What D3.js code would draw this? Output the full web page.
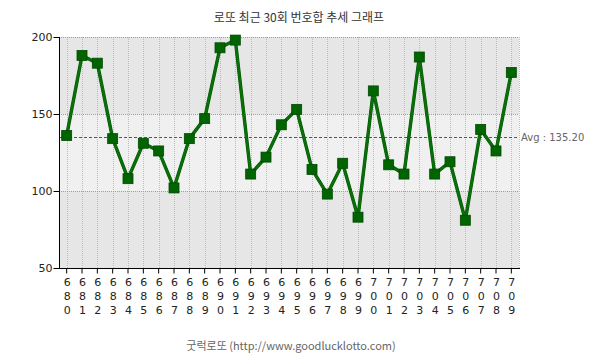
<!DOCTYPE html>
<html>
<head>
<meta charset="utf-8">
<script src="https://cdn.jsdelivr.net/npm/d3@7/dist/d3.min.js"></script>
<style>
  html, body { margin: 0; padding: 0; background: #fff; }
  svg { display: block; }
</style>
</head>
<body>
<svg id="chart" width="605" height="359"></svg>
<script>
const rounds = ["680","681","682","683","684","685","686","687","688","689",
                "690","691","692","693","694","695","696","697","698","699",
                "700","701","702","703","704","705","706","707","708","709"];
const sums = [136,188,183,134,108,131,126,102,134,147,
              193,198,111,122,143,153,114,98,118,83,
              165,117,111,187,111,119,81,140,126,177];
const yTicks = [50,100,150,200];
const bands = [[150,200],[100,150],[50,100]];
const titleText = "로또 최근 30회 번호합 추세 그래프";
const footerText = "굿럭로또 (http://www.goodlucklotto.com)";

const svg = d3.select("#chart");
const L = 59, R = 519, T = 37, B = 268;
const x = d3.scaleBand().domain(rounds).range([L, R]);
const y = d3.scaleLinear().domain([50, 200]).range([B, T]);
const cx = d => x(d) + x.bandwidth() / 2;
const avg = d3.mean(sums);

// background bands
svg.selectAll("rect.band").data(bands).enter().append("rect")
  .attr("x", L).attr("width", R - L)
  .attr("y", d => y(d[1])).attr("height", d => y(d[0]) - y(d[1]))
  .attr("fill", (d, i) => i % 2 === 0 ? "#e6e6e6" : "#f0f0f0");

// vertical dotted gridlines
svg.selectAll("line.vg").data(rounds).enter().append("line")
  .attr("x1", d => Math.round(cx(d)) + 0.5).attr("x2", d => Math.round(cx(d)) + 0.5)
  .attr("y1", T).attr("y2", B)
  .attr("stroke", "#bcbcbc").attr("stroke-dasharray", "1,1");
svg.append("line").attr("x1", R + 0.5).attr("x2", R + 0.5).attr("y1", T).attr("y2", B)
  .attr("stroke", "#bcbcbc").attr("stroke-dasharray", "1,1");

// horizontal dotted gridlines
svg.selectAll("line.hg").data(yTicks.slice(1)).enter().append("line")
  .attr("x1", L).attr("x2", R)
  .attr("y1", d => Math.round(y(d)) + 0.5).attr("y2", d => Math.round(y(d)) + 0.5)
  .attr("stroke", "#a0a0a0").attr("stroke-dasharray", "1,1");

// average line
svg.append("line").attr("x1", L).attr("x2", R)
  .attr("y1", Math.round(y(avg)) + 0.5).attr("y2", Math.round(y(avg)) + 0.5)
  .attr("stroke", "#555").attr("stroke-dasharray", "3,2");
svg.append("text").attr("x", R + 2).attr("y", Math.round(y(avg)) + 4)
  .attr("font-family", "DejaVu Sans, sans-serif").attr("font-size", 10)
  .attr("fill", "#666").text("Avg : " + avg.toFixed(2));

// axes
const yAxis = d3.axisLeft(y).tickValues(yTicks).tickSize(6).tickPadding(1);
const gy = svg.append("g").attr("transform", `translate(${L + 0.5},0)`).call(yAxis);
gy.select(".domain").attr("d", `M0,${T}V${B}`).attr("stroke", "#000");
gy.selectAll(".tick line").attr("stroke", "#000");
gy.selectAll(".tick text").attr("font-family", "DejaVu Sans, sans-serif")
  .attr("font-size", 11).attr("fill", "#222");

const xAxis = d3.axisBottom(x).tickSize(5).tickFormat("");
const gx = svg.append("g").attr("transform", `translate(0,${B + 0.5})`).call(xAxis);
gx.select(".domain").attr("d", `M${L},0H${R + 1}`).attr("stroke", "#000");
gx.selectAll(".tick line").attr("stroke", "#000");

// stacked digit labels
const lab = svg.append("g").attr("font-family", "DejaVu Sans, sans-serif")
  .attr("font-size", 11).attr("fill", "#222").attr("text-anchor", "middle");
rounds.forEach(r => {
  const t = lab.append("text").attr("x", cx(r) + 0.5).attr("y", 286);
  r.split("").forEach((ch, i) => {
    t.append("tspan").attr("x", cx(r) + 0.5).attr("dy", i === 0 ? 0 : 14).text(ch);
  });
});

// line
const line = d3.line().x((d, i) => cx(rounds[i])).y(d => y(d));
svg.append("path").datum(sums).attr("d", line)
  .attr("fill", "none").attr("stroke", "#005a00").attr("stroke-width", 3.4)
  .attr("stroke-linejoin", "round");
svg.append("path").datum(sums).attr("d", line)
  .attr("fill", "none").attr("stroke", "#0a6e0a").attr("stroke-width", 2.4)
  .attr("stroke-linejoin", "round");

// markers
svg.selectAll("rect.mk").data(sums).enter().append("rect")
  .attr("x", (d, i) => cx(rounds[i]) - 5).attr("y", d => y(d) - 5)
  .attr("width", 10).attr("height", 10)
  .attr("fill", "#006400").attr("stroke", "#004a00").attr("stroke-width", 0.8);

// title & footer
svg.append("text").attr("x", 299).attr("y", 22).attr("text-anchor", "middle")
  .attr("font-family", "Noto Sans CJK KR, sans-serif").attr("font-size", 12)
  .attr("fill", "#333").text(titleText);
svg.append("text").attr("x", 291).attr("y", 350).attr("text-anchor", "middle")
  .attr("font-family", "Noto Sans CJK KR, DejaVu Sans, sans-serif").attr("font-size", 11)
  .attr("fill", "#666").text(footerText);
</script>
</body>
</html>
